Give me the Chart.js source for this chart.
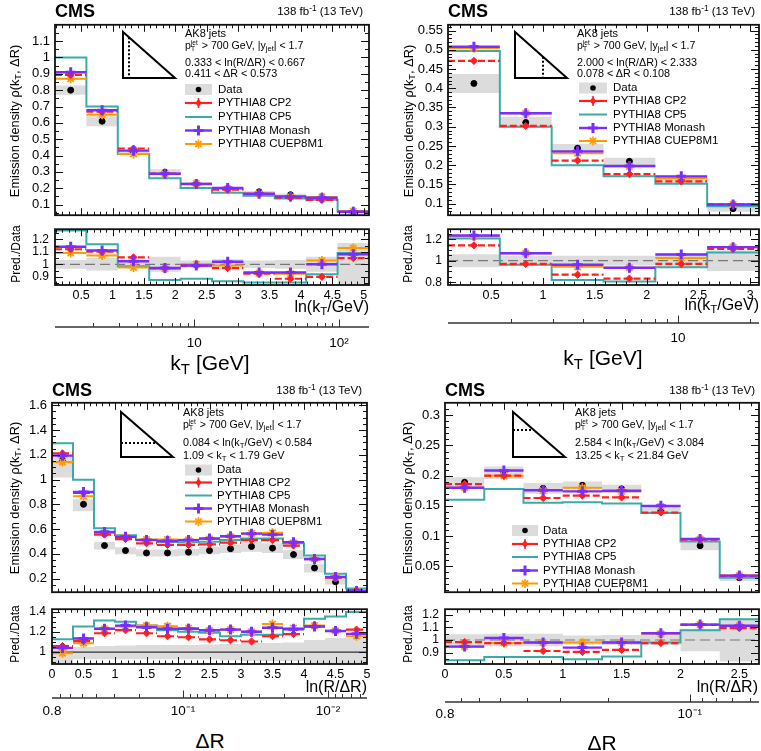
<!DOCTYPE html>
<html><head><meta charset="utf-8">
<script src="https://cdn.jsdelivr.net/npm/chart.js@4.4.1/dist/chart.umd.min.js"></script>
<style>
html,body{margin:0;padding:0;background:#fff;overflow:hidden;}
#root{position:relative;width:761px;height:751px;overflow:hidden;font-family:'Liberation Sans',Arial,Helvetica,sans-serif;color:#000;}
#root canvas{position:absolute;}
.t{position:absolute;white-space:nowrap;line-height:1;}
.t sub{font-size:0.72em;vertical-align:-0.3em;line-height:0;}
.t sup{font-size:0.72em;vertical-align:0.55em;line-height:0;}
.st{display:inline-block;vertical-align:-0.35em;font-size:0.62em;line-height:0.95;margin-right:1px;}
.st span{display:block;}
svg.ov{position:absolute;left:0;top:0;pointer-events:none;}
</style></head>
<body><div id="root"></div>
<script>
// ---------------- Panel A: emission density vs ln(kT/GeV), 0.333 < ln(R/dR) < 0.667
const A_edges = [0.084, 0.584, 1.084, 1.584, 2.084, 2.584, 3.084, 3.584, 4.084, 4.584, 5.084];
const A_data = [0.80, 0.61, 0.42, 0.298, 0.228, 0.198, 0.178, 0.160, 0.142, 0.052];
const A_errUp = [0.035, 0.05, 0.03, 0.06, 0.03, 0.04, 0.03, 0.035, 0.06, 0.17];
const A_errDn = [0.035, 0.05, 0.03, 0.06, 0.03, 0.04, 0.03, 0.035, 0.06, 0.17];
const A_cp2 = [0.893, 0.668, 0.443, 0.289, 0.226, 0.192, 0.165, 0.142, 0.128, 0.055];
const A_cp5 = [1.000, 0.700, 0.410, 0.261, 0.202, 0.173, 0.154, 0.137, 0.130, 0.057];
const A_monash = [0.910, 0.677, 0.430, 0.289, 0.226, 0.202, 0.166, 0.150, 0.142, 0.056];
const A_cuep = [0.870, 0.650, 0.410, 0.288, 0.228, 0.196, 0.166, 0.148, 0.146, 0.059];
const A_rCp2 = [1.12, 1.10, 1.055, 0.97, 0.99, 0.97, 0.925, 0.885, 0.90, 1.05];
const A_rCp5 = [1.27, 1.16, 0.985, 0.875, 0.885, 0.865, 0.855, 0.855, 0.92, 1.09];
const A_rMonash = [1.14, 1.11, 1.025, 0.97, 0.99, 1.02, 0.935, 0.935, 1.00, 1.08];
const A_rCuep = [1.09, 1.07, 0.975, 0.965, 1.00, 0.99, 0.93, 0.925, 1.03, 1.13];

// ---------------- Panel B: vs ln(kT/GeV), 2.000 < ln(R/dR) < 2.333
const B_edges = [0.084, 0.584, 1.084, 1.584, 2.084, 2.584, 3.084];
const B_data = [0.4125, 0.311, 0.244, 0.210, 0.162, 0.087];
const B_errUp = [0.06, 0.045, 0.045, 0.045, 0.065, 0.095];
const B_errDn = [0.06, 0.045, 0.045, 0.045, 0.065, 0.095];
const B_cp2 = [0.471, 0.302, 0.212, 0.177, 0.158, 0.098];
const B_cp5 = [0.497, 0.300, 0.200, 0.171, 0.152, 0.093];
const B_monash = [0.508, 0.335, 0.236, 0.198, 0.171, 0.098];
const B_cuep = [0.504, 0.335, 0.231, 0.197, 0.166, 0.098];
const B_rCp2 = [1.143, 0.97, 0.87, 0.834, 0.97, 1.11];
const B_rCp5 = [1.206, 0.963, 0.82, 0.806, 0.94, 1.077];
const B_rMonash = [1.234, 1.07, 0.963, 0.934, 1.057, 1.126];
const B_rCuep = [1.225, 1.07, 0.943, 0.934, 1.026, 1.126];

// ---------------- Panel C: vs ln(R/dR), 0.084 < ln(kT/GeV) < 0.584
const C_edges = [0, 0.3333, 0.6667, 1, 1.3333, 1.6667, 2, 2.3333, 2.6667, 3, 3.3333, 3.6667, 4, 4.3333, 4.6667, 5];
const C_data = [1.155, 0.800, 0.467, 0.426, 0.407, 0.407, 0.413, 0.426, 0.441, 0.459, 0.446, 0.394, 0.286, 0.174, 0.085];
const C_errUp = [0.03, 0.05, 0.06, 0.065, 0.07, 0.07, 0.07, 0.075, 0.08, 0.09, 0.09, 0.095, 0.12, 0.14, 0.14];
const C_errDn = [0.12, 0.07, 0.07, 0.07, 0.07, 0.07, 0.07, 0.07, 0.08, 0.09, 0.09, 0.09, 0.13, 0.13, 0.13];
const C_cp2 = [1.211, 0.892, 0.555, 0.519, 0.485, 0.472, 0.472, 0.477, 0.490, 0.511, 0.511, 0.467, 0.356, 0.208, 0.104];
const C_cp5 = [1.294, 0.998, 0.607, 0.550, 0.513, 0.496, 0.493, 0.498, 0.511, 0.524, 0.524, 0.485, 0.387, 0.239, 0.119];
const C_monash = [1.193, 0.900, 0.576, 0.537, 0.511, 0.503, 0.511, 0.524, 0.542, 0.563, 0.555, 0.493, 0.358, 0.213, 0.100];
const C_cuep = [1.141, 0.866, 0.570, 0.535, 0.515, 0.516, 0.513, 0.520, 0.540, 0.565, 0.570, 0.489, 0.360, 0.210, 0.098];
const C_rCp2 = [1.06, 1.11, 1.188, 1.218, 1.188, 1.158, 1.148, 1.127, 1.118, 1.106, 1.158, 1.179, 1.255, 1.212, 1.224];
const C_rCp5 = [1.127, 1.255, 1.315, 1.303, 1.264, 1.218, 1.203, 1.194, 1.158, 1.173, 1.173, 1.233, 1.333, 1.355, 1.40];
const C_rMonash = [1.042, 1.136, 1.233, 1.264, 1.248, 1.233, 1.233, 1.218, 1.224, 1.203, 1.242, 1.227, 1.255, 1.209, 1.182];
const C_rCuep = [0.99, 1.088, 1.233, 1.255, 1.264, 1.258, 1.24, 1.218, 1.224, 1.203, 1.279, 1.24, 1.264, 1.212, 1.158];

// ---------------- Panel D: vs ln(R/dR), 2.584 < ln(kT/GeV) < 3.084
const D_edges = [0, 0.3333, 0.6667, 1, 1.3333, 1.6667, 2, 2.3333, 2.6667];
const D_data = [0.189, 0.205, 0.179, 0.184, 0.178, 0.142, 0.084, 0.031];
const D_errUp = [0.045, 0.05, 0.05, 0.035, 0.04, 0.04, 0.09, 0.17];
const D_errDn = [0.045, 0.05, 0.05, 0.035, 0.04, 0.04, 0.09, 0.17];
const D_cp2 = [0.186, 0.200, 0.163, 0.167, 0.164, 0.139, 0.094, 0.034];
const D_cp5 = [0.160, 0.178, 0.155, 0.156, 0.154, 0.138, 0.091, 0.031];
const D_monash = [0.180, 0.2085, 0.176, 0.174, 0.175, 0.150, 0.095, 0.0345];
const D_cuep = [0.180, 0.200, 0.175, 0.180, 0.174, 0.149, 0.095, 0.0345];
const D_rCp2 = [0.984, 0.976, 0.913, 0.906, 0.922, 0.976, 1.12, 1.094];
const D_rCp5 = [0.84, 0.866, 0.866, 0.847, 0.87, 0.98, 1.078, 1.165];
const D_rMonash = [0.948, 1.016, 0.98, 0.94, 0.98, 1.054, 1.122, 1.113];
const D_rCuep = [0.948, 0.976, 0.98, 0.98, 0.98, 1.05, 1.122, 1.113];

// ---------------- secondary (log) axis ticks
const A_kMajor = [10, 100];
const A_kMinor = [2, 3, 4, 5, 6, 7, 8, 9, 20, 30, 40, 50, 60, 70, 80, 90];
const A_kLabelVals = [10, 100];
const A_kLabelText = ['10', '10²'];
const B_kMajor = [10];
const B_kMinor = [2, 3, 4, 5, 6, 7, 8, 9, 20];
const B_kLabelVals = [10];
const B_kLabelText = ['10'];
const C_drMajor = [0.1, 0.01];
const C_drMinor = [0.7, 0.6, 0.5, 0.4, 0.3, 0.2, 0.09, 0.08, 0.07, 0.06, 0.05, 0.04, 0.03, 0.02, 0.009, 0.008, 0.007, 0.006];
const C_drLabelVals = [0.8, 0.1, 0.01];
const C_drLabelText = ['0.8', '10⁻¹', '10⁻²'];
const D_drMajor = [0.1];
const D_drMinor = [0.7, 0.6, 0.5, 0.4, 0.3, 0.2, 0.09, 0.08, 0.07, 0.06];
const D_drLabelVals = [0.8, 0.1];
const D_drLabelText = ['0.8', '10⁻¹'];

const LEGEND_LABELS = ['Data', 'PYTHIA8 CP2', 'PYTHIA8 CP5', 'PYTHIA8 Monash', 'PYTHIA8 CUEP8M1'];

// ---------------- styling
const FONT = "'Liberation Sans', Arial, Helvetica, sans-serif";
const BAND = '#dcdcdc', RED = '#ff1f1f', TEAL = '#3aabaa', PURP = '#7a2dff', ORNG = '#ff9a00';
Chart.defaults.font.family = FONT;
Chart.defaults.color = '#000';

const root = document.getElementById('root');

const rootAxes = {
  id: 'rootAxes',
  afterDraw(chart, args, o) {
    if (!o || !o.mode) return;
    const ctx = chart.ctx, a = chart.chartArea, xs = chart.scales.x, ys = chart.scales.y;
    ctx.save();
    ctx.strokeStyle = '#111';
    ctx.lineWidth = 1;
    const seg = (x1, y1, x2, y2) => { ctx.beginPath(); ctx.moveTo(x1, y1); ctx.lineTo(x2, y2); ctx.stroke(); };
    const inX = p => p > a.left + 1 && p < a.right - 1;
    const inY = p => p > a.top + 1 && p < a.bottom - 1;
    if (o.mode === 'frame') {
      const xt = (vals, len) => (vals || []).forEach(v => { const p = Math.round(xs.getPixelForValue(v)) + 0.5; if (!inX(p)) return; seg(p, a.bottom, p, a.bottom - len); seg(p, a.top, p, a.top + len); });
      const yt = (vals, len) => (vals || []).forEach(v => { const p = Math.round(ys.getPixelForValue(v)) + 0.5; if (!inY(p)) return; seg(a.left, p, a.left + len, p); seg(a.right, p, a.right - len, p); });
      xt(o.xMinor, 3.5); xt(o.xMajor, 7); yt(o.yMinor, 4); yt(o.yMajor, 8);
      ctx.lineWidth = 1.8;
      ctx.strokeRect(a.left, a.top, a.right - a.left, a.bottom - a.top);
    } else {
      ctx.strokeStyle = '#333';
      const xt = (vals, len) => (vals || []).forEach(v => { const p = Math.round(xs.getPixelForValue(v)) + 0.5; if (!inX(p)) return; seg(p, a.bottom, p, a.bottom - len); });
      xt(o.xMinor, 4); xt(o.xMajor, 7.5);
      ctx.lineWidth = 1.5;
      seg(a.left, a.bottom, a.right, a.bottom);
    }
    ctx.restore();
  }
};
Chart.register(rootAxes);

function fmt(v) { return String(+(+v).toFixed(4)); }
function rng(lo, hi, st) { const out = []; const n0 = Math.ceil(lo / st - 1e-6), n1 = Math.floor(hi / st + 1e-6); for (let k = n0; k <= n1; k++) out.push(+(k * st).toFixed(6)); return out; }
function steps(edges, vals) { return edges.map((e, i) => ({ x: e, y: vals[Math.min(i, vals.length - 1)] })); }
function segs(edges, vals) { const out = []; vals.forEach((v, i) => { out.push({ x: edges[i], y: v }, { x: edges[i + 1], y: v }, { x: edges[i + 1], y: null }); }); return out; }
function centers(edges, vals) { return vals.map((v, i) => ({ x: (edges[i] + edges[i + 1]) / 2, y: v })); }

function mkCanvas(area, pad) {
  const c = document.createElement('canvas');
  const w = area.r - area.l + pad.l + pad.r, h = area.b - area.t + pad.t + pad.b;
  c.width = w; c.height = h;
  c.style.left = (area.l - pad.l) + 'px'; c.style.top = (area.t - pad.t) + 'px';
  c.style.width = w + 'px'; c.style.height = h + 'px';
  root.appendChild(c);
  return c;
}

function histChart(P, kind) {
  const isMain = kind === 'main';
  const area = isMain ? P.main : P.ratio;
  const pad = isMain ? { l: 45, t: 10, r: 12, b: 8 } : { l: 45, t: 8, r: 12, b: 20 };
  const c = mkCanvas(area, pad);
  const E = P.edges;
  const base = isMain ? P.data : P.data.map(() => 1);
  const V = isMain ? { cp2: P.cp2, cp5: P.cp5, mon: P.monash, cue: P.cuep } : { cp2: P.rCp2, cp5: P.rCp5, mon: P.rMonash, cue: P.rCuep };
  const ds = [
    { data: steps(E, base.map((v, i) => v * (1 + P.errUp[i]))), stepped: true, borderWidth: 0, borderColor: 'rgba(0,0,0,0)', pointRadius: 0, fill: false, order: 40 },
    { data: steps(E, base.map((v, i) => v * (1 - P.errDn[i]))), stepped: true, borderWidth: 0, borderColor: 'rgba(0,0,0,0)', pointRadius: 0, fill: '-1', backgroundColor: BAND, order: 39 },
  ];
  if (!isMain) {
    ds.push({ data: [{ x: P.x[0], y: 1 }, { x: P.x[1], y: 1 }], borderColor: P.unitySolid ? '#333' : '#777', borderWidth: 1.2, borderDash: P.unitySolid ? [] : [10, 5], pointRadius: 0, order: 35 });
  }
  ds.push({ data: steps(E, V.cp5), stepped: true, borderColor: TEAL, borderWidth: 2, pointRadius: 0, fill: false, order: 20 });
  if (isMain) {
    ds.push({ data: centers(E, P.data), showLine: false, pointRadius: 3, pointStyle: 'circle', pointBackgroundColor: '#000', pointBorderColor: '#000', order: 15 });
  }
  ds.push({ data: segs(E, V.cue), borderColor: ORNG, borderWidth: 2, pointRadius: 0, order: 12 });
  ds.push({ data: centers(E, V.cue), showLine: false, pointStyle: 'star', pointRadius: 4.5, pointBorderWidth: 1.8, pointBorderColor: ORNG, pointBackgroundColor: ORNG, order: 11 });
  ds.push({ data: segs(E, V.cp2), borderColor: RED, borderWidth: 2.2, borderDash: [7, 3], pointRadius: 0, order: 8 });
  ds.push({ data: centers(E, V.cp2), showLine: false, pointStyle: 'rectRot', pointRadius: 3.6, pointBorderWidth: 1, pointBorderColor: RED, pointBackgroundColor: RED, order: 7 });
  ds.push({ data: segs(E, V.mon), borderColor: PURP, borderWidth: 2.4, pointRadius: 0, order: 5 });
  ds.push({ data: centers(E, V.mon), showLine: false, pointStyle: 'cross', pointRadius: 5, pointBorderWidth: 3, pointBorderColor: PURP, order: 4 });

  const yr = isMain ? P.yMain : P.yRatio;
  const yMajor = isMain ? P.yMainMajor : P.yRatioMajor;
  const yMinorStep = isMain ? P.yMainMinorStep : P.yRatioMinorStep;
  new Chart(c, {
    type: 'line',
    data: { datasets: ds },
    options: {
      responsive: false, animation: false, devicePixelRatio: 1, events: [],
      layout: { padding: { left: 0, top: pad.t, right: pad.r, bottom: isMain ? pad.b : 0 } },
      plugins: {
        legend: { display: false }, tooltip: { enabled: false },
        rootAxes: { mode: 'frame', xMajor: P.xMajor, xMinor: rng(P.x[0], P.x[1], 0.1), yMajor: yMajor, yMinor: rng(yr[0], yr[1], yMinorStep) }
      },
      scales: {
        x: isMain ? { type: 'linear', min: P.x[0], max: P.x[1], display: false } : {
          type: 'linear', min: P.x[0], max: P.x[1],
          afterBuildTicks: s => { s.ticks = P.xMajor.map(v => ({ value: v })); },
          afterFit: s => { s.height = pad.b; },
          grid: { display: false, drawTicks: false }, border: { display: false },
          ticks: { autoSkip: false, maxRotation: 0, padding: 3, font: { size: 12.5 }, callback: v => fmt(v) }
        },
        y: {
          type: 'linear', min: yr[0], max: yr[1],
          afterBuildTicks: s => { s.ticks = yMajor.map(v => ({ value: v })); },
          afterFit: s => { s.width = pad.l; },
          grid: { display: false, drawTicks: false }, border: { display: false },
          ticks: { autoSkip: false, padding: isMain ? 5 : 6, font: { size: isMain ? 13 : 12 }, callback: v => fmt(v) }
        }
      }
    }
  });
}

function secAxis(P) {
  const S = P.sec;
  const area = { l: P.ratio.l, r: P.ratio.r, t: S.y - 8, b: S.y };
  const pad = { l: 20, t: 4, r: 12, b: 24 };
  const c = mkCanvas(area, pad);
  new Chart(c, {
    type: 'line',
    data: { datasets: [] },
    options: {
      responsive: false, animation: false, devicePixelRatio: 1, events: [],
      layout: { padding: { left: pad.l, top: pad.t, right: pad.r, bottom: 0 } },
      plugins: { legend: { display: false }, tooltip: { enabled: false }, rootAxes: { mode: 'axis', xMajor: S.major, xMinor: S.minor } },
      scales: {
        x: {
          type: 'logarithmic', min: S.min, max: S.max, reverse: !!S.reverse,
          afterBuildTicks: s => { s.ticks = S.labelVals.map(v => ({ value: v })); },
          afterFit: s => { s.height = pad.b; },
          grid: { display: false, drawTicks: false }, border: { display: false },
          ticks: { autoSkip: false, maxRotation: 0, padding: S.pad, font: { size: 13.5 },
            callback: v => { const i = S.labelVals.findIndex(u => Math.abs(u - v) / u < 1e-6); return i >= 0 ? S.labelText[i] : ''; } }
        },
        y: { display: false }
      }
    }
  });
}

const PANELS = [
  { edges: A_edges, data: A_data, errUp: A_errUp, errDn: A_errDn, cp2: A_cp2, cp5: A_cp5, monash: A_monash, cuep: A_cuep,
    rCp2: A_rCp2, rCp5: A_rCp5, rMonash: A_rMonash, rCuep: A_rCuep,
    main: { l: 55, t: 22, r: 369, b: 220 }, ratio: { l: 55, t: 224, r: 369, b: 285 },
    x: [0.084, 5.084], xMajor: rng(0.5, 5, 0.5),
    yMain: [0.035, 1.2], yMainMajor: rng(0.1, 1.1, 0.1), yMainMinorStep: 0.05,
    yRatio: [0.835, 1.28], yRatioMajor: [0.9, 1, 1.1, 1.2], yRatioMinorStep: 0.05,
    sec: { y: 327, min: Math.exp(0.084), max: Math.exp(5.084), major: A_kMajor, minor: A_kMinor, labelVals: A_kLabelVals, labelText: A_kLabelText, pad: 8 } },
  { edges: B_edges, data: B_data, errUp: B_errUp, errDn: B_errDn, cp2: B_cp2, cp5: B_cp5, monash: B_monash, cuep: B_cuep,
    rCp2: B_rCp2, rCp5: B_rCp5, rMonash: B_rMonash, rCuep: B_rCuep,
    main: { l: 448, t: 22, r: 759, b: 220 }, ratio: { l: 448, t: 224, r: 759, b: 285 },
    x: [0.084, 3.084], xMajor: rng(0.5, 3, 0.5),
    yMain: [0.07, 0.565], yMainMajor: rng(0.1, 0.55, 0.05), yMainMinorStep: 0.01,
    yRatio: [0.774, 1.293], yRatioMajor: [0.8, 1, 1.2], yRatioMinorStep: 0.05,
    sec: { y: 323, min: Math.exp(0.084), max: Math.exp(3.084), major: B_kMajor, minor: B_kMinor, labelVals: B_kLabelVals, labelText: B_kLabelText, pad: 7 } },
  { edges: C_edges, data: C_data, errUp: C_errUp, errDn: C_errDn, cp2: C_cp2, cp5: C_cp5, monash: C_monash, cuep: C_cuep,
    rCp2: C_rCp2, rCp5: C_rCp5, rMonash: C_rMonash, rCuep: C_rCuep, unitySolid: true,
    main: { l: 52, t: 400, r: 367, b: 597 }, ratio: { l: 52, t: 604, r: 367, b: 664 },
    x: [0, 5], xMajor: rng(0, 5, 0.5),
    yMain: [0.09, 1.62], yMainMajor: rng(0.2, 1.6, 0.2), yMainMinorStep: 0.05,
    yRatio: [0.882, 1.427], yRatioMajor: [1, 1.2, 1.4], yRatioMinorStep: 0.05,
    sec: { y: 698, min: 0.8 * Math.exp(-5), max: 0.8, reverse: true, major: C_drMajor, minor: C_drMinor, labelVals: C_drLabelVals, labelText: C_drLabelText, pad: 5 } },
  { edges: D_edges, data: D_data, errUp: D_errUp, errDn: D_errDn, cp2: D_cp2, cp5: D_cp5, monash: D_monash, cuep: D_cuep,
    rCp2: D_rCp2, rCp5: D_rCp5, rMonash: D_rMonash, rCuep: D_rCuep,
    main: { l: 445, t: 400, r: 759, b: 597 }, ratio: { l: 445, t: 604, r: 759, b: 664 },
    x: [0, 2.6667], xMajor: rng(0, 2.5, 0.5),
    yMain: [0.007, 0.3207], yMainMajor: rng(0.05, 0.3, 0.05), yMainMinorStep: 0.01,
    yRatio: [0.81, 1.244], yRatioMajor: [0.9, 1, 1.1, 1.2], yRatioMinorStep: 0.05,
    sec: { y: 702, min: 0.8 * Math.exp(-2.6667), max: 0.8, reverse: true, major: D_drMajor, minor: D_drMinor, labelVals: D_drLabelVals, labelText: D_drLabelText, pad: 4 } },
];

PANELS.forEach(P => { histChart(P, 'main'); histChart(P, 'ratio'); secAxis(P); });

// ---------------- text overlays
function T(html, x, y, size, align, opts) {
  opts = opts || {};
  const d = document.createElement('div');
  d.className = 't';
  d.innerHTML = html;
  d.style.left = x + 'px'; d.style.top = y + 'px'; d.style.fontSize = size + 'px';
  if (opts.bold) d.style.fontWeight = 'bold';
  const tx = align === 'left' ? '0' : align === 'right' ? '-100%' : '-50%';
  d.style.transform = `translate(${tx},-50%)` + (opts.rot ? ' rotate(-90deg)' : '');
  root.appendChild(d);
}
const PT = 'p<span class="st"><span>jet</span><span>T</span></span> &gt; 700 GeV, |y<sub>jet</sub>| &lt; 1.7';
const LUMI = '138 fb<sup>-1</sup> (13 TeV)';
const YT = 'Emission density ρ(k<sub>T</sub>, ΔR)';
const KTL = 'ln(k<sub>T</sub>/GeV)', RDL = 'ln(R/ΔR)';

const TEXTS = [
  { cms: [55, 11], lumi: [363, 12], ann: [185, [33, 46, 62, 73]], lines: ['0.333 &lt; ln(R/ΔR) &lt; 0.667', '0.411 &lt; ΔR &lt; 0.573'],
    leg: [185, 27, 218, [89.5, 103, 117, 130.5, 144]], yt: [15, 121], rt: [16, 254], xl: [KTL, 369, 307], xt: ['k<sub>T</sub> [GeV]', 210, 362] },
  { cms: [448, 11], lumi: [755, 12], ann: [577, [33, 46, 62, 73]], lines: ['2.000 &lt; ln(R/ΔR) &lt; 2.333', '0.078 &lt; ΔR &lt; 0.108'],
    leg: [579, 28, 613, [88, 101, 114.5, 128, 141]], yt: [409, 121], rt: [408, 254], xl: [KTL, 759, 305], xt: ['k<sub>T</sub> [GeV]', 603, 357] },
  { cms: [52, 390], lumi: [362, 391], ann: [183, [412, 425, 442, 455]], lines: ['0.084 &lt; ln(k<sub>T</sub>/GeV) &lt; 0.584', '1.09 &lt; k<sub>T</sub> &lt; 1.79 GeV'],
    leg: [185, 27, 217, [470, 482.5, 495.5, 508.5, 521.5]], yt: [15, 498], rt: [15, 634], xl: [RDL, 367, 687], xt: ['ΔR', 210, 740] },
  { cms: [445, 390], lumi: [755, 391], ann: [575, [412, 425, 442, 455]], lines: ['2.584 &lt; ln(k<sub>T</sub>/GeV) &lt; 3.084', '13.25 &lt; k<sub>T</sub> &lt; 21.84 GeV'],
    leg: [512, 26, 543, [530.5, 544, 557, 570.5, 583.5]], yt: [408, 498], rt: [408, 634], xl: [RDL, 758, 687], xt: ['ΔR', 602, 742] },
];

let svg = '';
function star(cx, cy, r, c) { let s = ''; for (let k = 0; k < 4; k++) { const an = k * Math.PI / 4, dx = r * Math.cos(an), dy = r * Math.sin(an); s += `<line x1="${cx - dx}" y1="${cy - dy}" x2="${cx + dx}" y2="${cy + dy}" stroke="${c}" stroke-width="1.6"/>`; } return s; }
function legendSym(x0, w, r) {
  const cx = x0 + w / 2; let s = '';
  s += `<rect x="${x0}" y="${r[0] - 5.5}" width="${w}" height="11" fill="${BAND}"/><circle cx="${cx}" cy="${r[0]}" r="2.8" fill="#000"/>`;
  s += `<line x1="${x0}" y1="${r[1]}" x2="${x0 + w}" y2="${r[1]}" stroke="${RED}" stroke-width="2.2"/><line x1="${cx}" y1="${r[1] - 5}" x2="${cx}" y2="${r[1] + 5}" stroke="${RED}" stroke-width="1.5"/><polygon points="${cx},${r[1] - 4} ${cx + 3.2},${r[1]} ${cx},${r[1] + 4} ${cx - 3.2},${r[1]}" fill="${RED}"/>`;
  s += `<line x1="${x0}" y1="${r[2]}" x2="${x0 + w}" y2="${r[2]}" stroke="${TEAL}" stroke-width="2"/>`;
  s += `<line x1="${x0}" y1="${r[3]}" x2="${x0 + w}" y2="${r[3]}" stroke="${PURP}" stroke-width="2.4"/><line x1="${cx - 5}" y1="${r[3]}" x2="${cx + 5}" y2="${r[3]}" stroke="${PURP}" stroke-width="3"/><line x1="${cx}" y1="${r[3] - 5}" x2="${cx}" y2="${r[3] + 5}" stroke="${PURP}" stroke-width="3"/>`;
  s += `<line x1="${x0}" y1="${r[4]}" x2="${x0 + w}" y2="${r[4]}" stroke="${ORNG}" stroke-width="2"/>` + star(cx, r[4], 4.5, ORNG);
  return s;
}
function tri(x0, y0, x1, y1, dot) {
  let s = `<polygon points="${x0},${y0} ${x0},${y1} ${x1},${y1}" fill="none" stroke="#000" stroke-width="2"/>`;
  if (dot.v !== undefined) {
    const yt = y0 + (dot.v - x0) / (x1 - x0) * (y1 - y0);
    s += `<line x1="${dot.v}" y1="${yt}" x2="${dot.v}" y2="${y1}" stroke="#000" stroke-width="2" stroke-dasharray="2,2"/>`;
  } else {
    const xr = x0 + (dot.h - y0) / (y1 - y0) * (x1 - x0);
    s += `<line x1="${x0}" y1="${dot.h}" x2="${xr}" y2="${dot.h}" stroke="#000" stroke-width="2" stroke-dasharray="2,2"/>`;
  }
  return s;
}
svg += tri(123, 32, 175, 78, { v: 129 });
svg += tri(515, 32, 567, 78, { v: 543 });
svg += tri(121, 412, 173, 457, { h: 443 });
svg += tri(513, 412, 565, 457, { h: 430 });

TEXTS.forEach(X => {
  T('CMS', X.cms[0], X.cms[1], 18, 'left', { bold: true });
  T(LUMI, X.lumi[0], X.lumi[1], 11.5, 'right');
  const ax = X.ann[0], ay = X.ann[1];
  T('AK8 jets', ax, ay[0], 11, 'left');
  T(PT, ax, ay[1], 10.6, 'left');
  T(X.lines[0], ax, ay[2], 10.8, 'left');
  T(X.lines[1], ax, ay[3], 10.8, 'left');
  const [lx, lw, tx, rows] = X.leg;
  rows.forEach((ry, i) => T(LEGEND_LABELS[i], tx, ry, 11.5, 'left'));
  svg += legendSym(lx, lw, rows);
  T(YT, X.yt[0], X.yt[1], 12.8, 'center', { rot: true });
  T('Pred./Data', X.rt[0], X.rt[1], 12, 'center', { rot: true });
  T(X.xl[0], X.xl[1], X.xl[2], 16, 'right');
  T(X.xt[0], X.xt[1], X.xt[2], 21, 'center');
});

const svgEl = document.createElement('div');
svgEl.innerHTML = `<svg class="ov" width="761" height="751" viewBox="0 0 761 751" xmlns="http://www.w3.org/2000/svg">${svg}</svg>`;
root.appendChild(svgEl.firstChild);
</script></body></html>
